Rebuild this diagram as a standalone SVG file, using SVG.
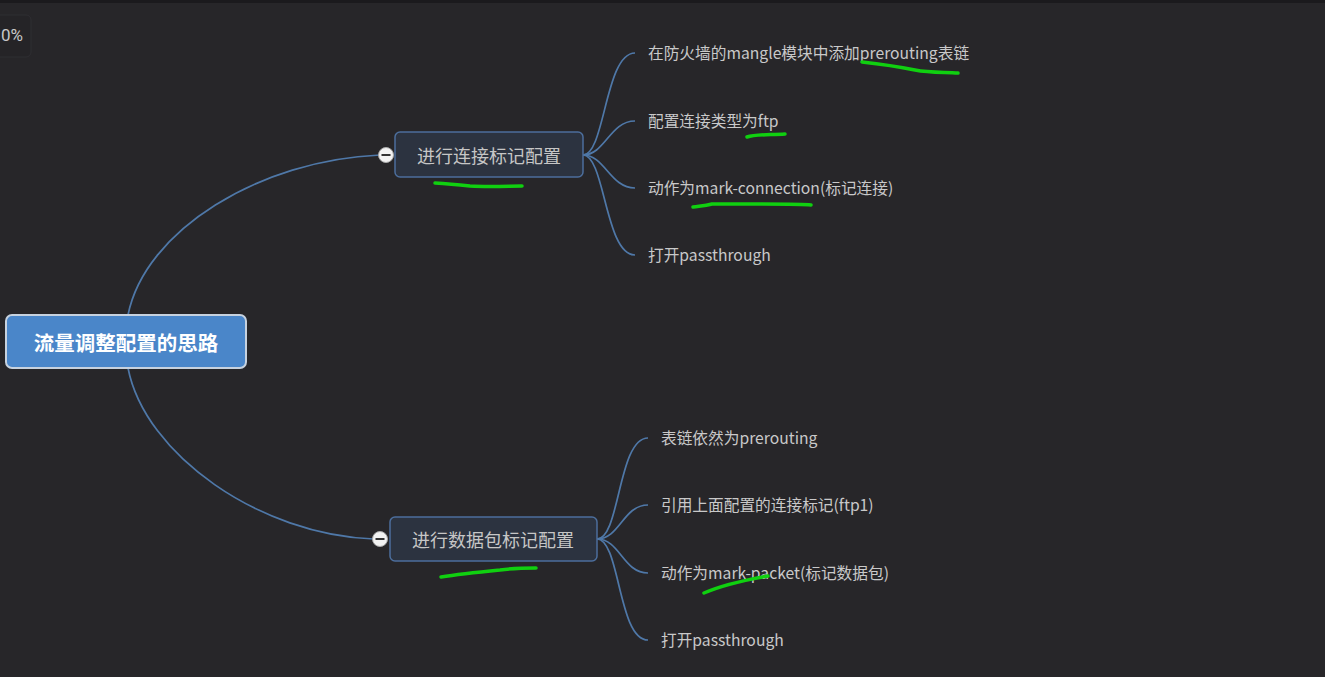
<svg xmlns="http://www.w3.org/2000/svg" width="1325" height="677" viewBox="0 0 1325 677">
<style>
.leaf{font-family:"Noto Sans CJK SC","Microsoft YaHei",sans-serif;font-size:15.7px;fill:#c9c9c9;dominant-baseline:central}
.sub{font-family:"Noto Sans CJK SC",sans-serif;font-size:18px;fill:#c6c6c6;text-anchor:middle;dominant-baseline:central}
.conn{fill:none;stroke:#4f78a8;stroke-width:1.7}
.hl{fill:none;stroke:#10d010;stroke-width:3.5;stroke-linecap:round;stroke-linejoin:round}
.subbox{fill:#2c3340;stroke:#4c6e9c;stroke-width:1.5}
</style>
<rect x="0" y="0" width="1325" height="677" fill="#272629"/>
<rect x="0" y="0" width="1325" height="3" fill="#1b1a1d"/>
<g id="zoom">
<rect x="-10" y="15" width="41" height="42" rx="5" fill="#252427" stroke="#2f2e32"/>
<text x="1" y="35" font-family="Roboto,sans-serif" font-size="17" fill="#c8c8c8" dominant-baseline="central">0%</text>
</g>
<g id="connectors">
<path class="conn" d="M128,315 C145,230 260,160 380,155"/>
<path class="conn" d="M128,368 C145,455 260,535 374,539"/>
<path class="conn" d="M583,155 C605,155 605,53 635,53"/>
<path class="conn" d="M583,155 C605,155 610,121 635,121"/>
<path class="conn" d="M583,155 C605,155 610,188 635,188"/>
<path class="conn" d="M583,155 C605,155 605,255 635,255"/>
<path class="conn" d="M597,539 C620,539 618,438 648,438"/>
<path class="conn" d="M597,539 C620,539 623,505 648,505"/>
<path class="conn" d="M597,539 C620,539 623,573 648,573"/>
<path class="conn" d="M597,539 C620,539 618,640 648,640"/>
</g>
<g id="root">
<rect x="6" y="315" width="240" height="53" rx="6" fill="#4a86c9" stroke="#c7d2df" stroke-width="2"/>
<text x="126" y="341.5" font-family="Noto Sans CJK SC,sans-serif" font-size="20.5" font-weight="bold" fill="#ffffff" text-anchor="middle" dominant-baseline="central">流量调整配置的思路</text>
</g>
<g id="node1">
<rect class="subbox" x="395" y="132" width="188" height="45" rx="5"/>
<text class="sub" x="489" y="155">进行连接标记配置</text>
<circle cx="386" cy="155" r="7.5" fill="#f2f2f2" stroke="#aaa" stroke-width="1"/>
<line x1="381.5" y1="155" x2="390.5" y2="155" stroke="#333" stroke-width="2"/>
</g>
<g id="node2">
<rect class="subbox" x="390" y="517" width="207" height="44" rx="5"/>
<text class="sub" x="493" y="539">进行数据包标记配置</text>
<circle cx="380" cy="539" r="7.5" fill="#f2f2f2" stroke="#aaa" stroke-width="1"/>
<line x1="375.5" y1="539" x2="384.5" y2="539" stroke="#333" stroke-width="2"/>
</g>
<g id="leaf1"><text class="leaf" x="648" y="52">在防火墙的mangle模块中添加prerouting表链</text></g>
<g id="leaf2"><text class="leaf" x="648" y="120">配置连接类型为ftp</text></g>
<g id="leaf3"><text class="leaf" x="648" y="187">动作为mark-connection(标记连接)</text></g>
<g id="leaf4"><text class="leaf" x="648" y="254">打开passthrough</text></g>
<g id="leaf5"><text class="leaf" x="661" y="437">表链依然为prerouting</text></g>
<g id="leaf6"><text class="leaf" x="661" y="504">引用上面配置的连接标记(ftp1)</text></g>
<g id="leaf7"><text class="leaf" x="661" y="572">动作为mark-packet(标记数据包)</text></g>
<g id="leaf8"><text class="leaf" x="661" y="639">打开passthrough</text></g>
<g id="highlights">
<path class="hl" d="M862,62 C880,64 900,67 915,70 C930,73 945,72 958,73"/>
<path class="hl" d="M747,137 C755,134 770,135 785,134"/>
<path class="hl" d="M693,207 C700,206 705,206 712,204 L760,204 C785,204 805,204 811,205"/>
<path class="hl" d="M435,183 C450,184 460,185 470,186 C490,187 510,186 522,186"/>
<path class="hl" d="M441,577 C460,574 480,572 500,570 C515,568 528,568 536,568"/>
<path class="hl" d="M704,593 C720,586 745,580 768,576"/>
</g>
</svg>
